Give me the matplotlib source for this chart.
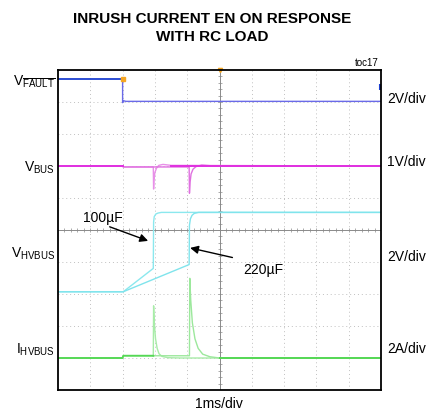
import numpy as np
import matplotlib
matplotlib.use("Agg")
import matplotlib.pyplot as plt

plt.rcParams['font.family'] = ['Liberation Sans', 'DejaVu Sans']
plt.rcParams['mathtext.fontset'] = 'custom'
plt.rcParams['mathtext.rm'] = 'Liberation Sans'
plt.rcParams['mathtext.it'] = 'Liberation Sans'

# traces (x: divisions of 1ms, y: divisions from bottom)
fault_hi_t = [0.0, 2.0]
fault_hi_v = [9.72, 9.72]
fault_lo_t = [2.0, 2.0, 2.03, 2.1, 10.0]
fault_lo_v = [9.72, 8.98, 9.04, 9.02, 9.02]

vbus_a_t = [0.0, 2.0, 2.02, 2.95, 2.96, 2.97, 3.0, 3.05, 3.12, 3.25, 3.5, 10.0]
vbus_a_v = [7.0, 7.0, 6.97, 6.97, 6.28, 6.55, 6.8, 6.93, 7.02, 7.05, 7.02, 7.0]
vbus_b_t = [0.0, 2.0, 2.02, 4.06, 4.07, 4.09, 4.12, 4.18, 4.27, 4.45, 4.8, 10.0]
vbus_b_v = [7.0, 7.0, 6.97, 6.97, 6.15, 6.5, 6.75, 6.9, 6.98, 7.03, 7.0, 7.0]

hv_a_t = [0.0, 2.02, 2.95, 2.96, 2.98, 3.03, 3.1, 3.2, 10.0]
hv_a_v = [3.07, 3.07, 3.8, 5.25, 5.42, 5.5, 5.53, 5.55, 5.55]
hv_b_t = [0.0, 2.02, 4.06, 4.07, 4.1, 4.15, 4.22, 4.35, 10.0]
hv_b_v = [3.07, 3.07, 3.92, 5.15, 5.35, 5.46, 5.52, 5.55, 5.55]

i_base_t = [0.0, 2.0, 2.02, 2.95]
i_base_v = [1.0, 1.0, 1.07, 1.07]
i_a_t = [2.95, 2.96, 2.98, 3.02, 3.07, 3.13, 3.22, 3.4, 3.8, 10.0]
i_a_v = [1.07, 2.63, 2.1, 1.6, 1.3, 1.13, 1.05, 1.01, 1.0, 1.0]
i_b_t = [2.95, 4.07, 4.08, 4.11, 4.16, 4.24, 4.34, 4.48, 4.7, 5.0, 10.0]
i_b_v = [1.07, 1.07, 3.49, 2.8, 2.1, 1.6, 1.3, 1.12, 1.04, 1.0, 1.0]

fig = plt.figure(figsize=(4.26, 4.14), dpi=100)
ax = fig.add_axes([58 / 426, 1 - 391 / 414, 323 / 426, 320 / 414])
ax.set_xlim(0, 10)
ax.set_ylim(0, 10)
ax.set_xticks([])
ax.set_yticks([])
for s in ax.spines.values():
    s.set_linewidth(1.3)
    s.set_color('black')

# graticule
for k in range(1, 10):
    if k == 5:
        continue
    ax.axvline(k, color='#c0c0c0', lw=0.7, ls=(0, (1, 3)), zorder=0)
    ax.axhline(k, color='#c0c0c0', lw=0.7, ls=(0, (1, 3)), zorder=0)
ax.axvline(5, color='#8a8a8a', lw=0.7, zorder=0)
ax.axhline(5, color='#8a8a8a', lw=0.7, zorder=0)
minor = np.arange(0.2, 10, 0.2)
ax.plot(minor, np.full_like(minor, 5), ls='none', marker='|', ms=2.5, mew=0.5, color='#8a8a8a', zorder=0)
ax.plot(np.full_like(minor, 5), minor, ls='none', marker='_', ms=2.5, mew=0.5, color='#8a8a8a', zorder=0)

# traces
ax.plot(fault_lo_t, fault_lo_v, color='#6a6ae8', lw=1.0)
ax.plot(fault_hi_t, fault_hi_v, color='#1d3fd0', lw=1.3)
ax.plot(vbus_a_t, vbus_a_v, color='#e890e8', lw=1.0)
ax.plot(vbus_b_t, vbus_b_v, color='#e070e0', lw=1.0)
ax.plot([0, 2.0], [7.0, 7.0], color='#e030e0', lw=1.4)
ax.plot([3.5, 10], [7.0, 7.0], color='#e030e0', lw=1.4)
ax.plot(hv_a_t, hv_a_v, color='#8be8ee', lw=1.0)
ax.plot(hv_b_t, hv_b_v, color='#80e4ec', lw=1.0)
ax.plot(i_a_t, i_a_v, color='#a8eca8', lw=1.0)
ax.plot(i_b_t, i_b_v, color='#9ce89c', lw=1.0)
ax.plot(i_base_t, i_base_v, color='#55d855', lw=1.4)
ax.plot([5.0, 10], [1.0, 1.0], color='#55d855', lw=1.4)

# scope markers
ax.plot([2.0], [9.72], marker='s', ms=3.5, color='#f5a623', clip_on=False)
ax.plot([5.0], [10.0], marker='v', ms=3, color='#f5a623', clip_on=False)
ax.plot([9.97], [9.47], marker='|', ms=4, mew=1.5, color='#1d3fd0', clip_on=False)

# annotations
arrow = dict(arrowstyle='-|>', color='black', lw=1.0, mutation_scale=12, shrinkA=0, shrinkB=0)
ax.annotate('', xy=(2.79, 4.66), xytext=(1.6, 5.1), arrowprops=arrow)
ax.text(0.78, 5.4, '100µF', fontsize=10, ha='left', va='center')
ax.annotate('', xy=(4.09, 4.44), xytext=(5.4, 4.14), arrowprops=arrow)
ax.text(5.73, 3.78, '220µF', fontsize=10, ha='left', va='center')

# channel labels
lab = dict(fontsize=10, ha='right', va='center')
fig.text(55 / 426, 1 - 82 / 414, r'$\mathrm{V}_{\overline{\mathrm{FAULT}}}$', **lab)
fig.text(55 / 426, 1 - 168 / 414, r'$\mathrm{V}_{\mathrm{BUS}}$', **lab)
fig.text(55 / 426, 1 - 254 / 414, r'$\mathrm{V}_{\mathrm{HVBUS}}$', **lab)
fig.text(55 / 426, 1 - 350 / 414, r'$\mathrm{I}_{\mathrm{HVBUS}}$', **lab)

rl = dict(fontsize=10, ha='left', va='center')
fig.text(387 / 426, 1 - 99 / 414, '2V/div', **rl)
fig.text(387 / 426, 1 - 162 / 414, '1V/div', **rl)
fig.text(387 / 426, 1 - 257 / 414, '2V/div', **rl)
fig.text(387 / 426, 1 - 349 / 414, '2A/div', **rl)

fig.text(379 / 426, 1 - 63 / 414, 'toc17', fontsize=7, ha='right', va='center')
fig.text(219 / 426, 1 - 404 / 414, '1ms/div', fontsize=10, ha='center', va='center')
fig.text(212 / 426, 1 - 28 / 414, 'INRUSH CURRENT EN ON RESPONSE\nWITH RC LOAD',
         fontsize=11, fontweight='bold', ha='center', va='center', linespacing=1.3)

fig.savefig('out.png', dpi=100)
